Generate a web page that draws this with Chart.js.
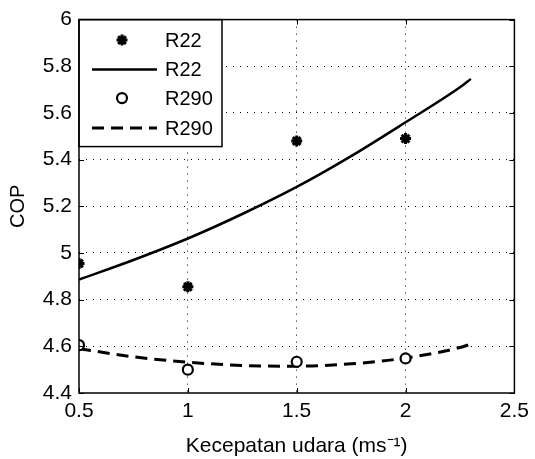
<!DOCTYPE html>
<html>
<head>
<meta charset="utf-8">
<script src="https://cdn.jsdelivr.net/npm/chart.js@4.4.0/dist/chart.umd.min.js"></script>
<style>
  html, body { margin: 0; padding: 0; background: #fff; }
</style>
</head>
<body>
<canvas id="chart" width="535" height="459"></canvas>
<script>
// values
const xMeasured = [0.5, 1, 1.5, 2];
const r22Measured = [4.955, 4.855, 5.48, 5.49];
const r290Measured = [4.605, 4.50, 4.534, 4.548];

const xFit = [0.5, 0.75, 1, 1.25, 1.5, 1.75, 2, 2.25, 2.3];
const r22Fit = [4.886, 4.97, 5.062, 5.167, 5.283, 5.415, 5.56, 5.71, 5.746];
const r290Fit = [4.59, 4.555, 4.532, 4.518, 4.515, 4.525, 4.55, 4.595, 4.61];

const seriesLabels = ['R22', 'R22', 'R290', 'R290'];
const xTitle = 'Kecepatan udara (ms\u207B\u00B9)';
const yTitle = 'COP';

const fontFamily = "'Liberation Sans', Arial, sans-serif";
Chart.defaults.font.family = fontFamily;
Chart.defaults.color = '#000';

const toPoints = (xs, ys) => xs.map((x, i) => ({ x: x, y: ys[i] }));
const plainNumber = (v) => String(parseFloat(Number(v).toFixed(3)));

const hideEdges = (ctx) => {
  const s = ctx.scale;
  if (!ctx.tick) return '#000';
  const v = ctx.tick.value;
  return (Math.abs(v - s.min) < 1e-9 || Math.abs(v - s.max) < 1e-9) ? 'rgba(0,0,0,0)' : '#000';
};

// MATLAB-like box, inner ticks and legend
const matlabBox = {
  id: 'matlabBox',
  afterDatasetsDraw(chart) {
    const { ctx, chartArea: a, scales: { x, y } } = chart;
    ctx.save();
    ctx.strokeStyle = '#000';
    ctx.lineWidth = 1;
    ctx.setLineDash([]);
    ctx.beginPath();
    x.ticks.forEach(t => {
      const px = Math.round(x.getPixelForValue(t.value)) + 0.5;
      ctx.moveTo(px, a.bottom); ctx.lineTo(px, a.bottom - 5);
      ctx.moveTo(px, a.top); ctx.lineTo(px, a.top + 5);
    });
    y.ticks.forEach(t => {
      const py = Math.round(y.getPixelForValue(t.value)) + 0.5;
      ctx.moveTo(a.left, py); ctx.lineTo(a.left + 5, py);
      ctx.moveTo(a.right, py); ctx.lineTo(a.right - 5, py);
    });
    ctx.stroke();

    // legend
    const lx = a.left, ly = a.top, lw = 143, lh = 127;
    ctx.fillStyle = '#fff';
    ctx.fillRect(lx, ly, lw, lh);
    ctx.lineWidth = 1.5;
    ctx.strokeRect(lx, ly, lw, lh);
    const rows = [20.5, 50, 78.5, 108.5];
    ctx.font = '20px ' + fontFamily;
    ctx.textBaseline = 'middle';
    chart.data.datasets.forEach((ds, i) => {
      const ry = ly + rows[i];
      if (ds.showLine) {
        ctx.save();
        ctx.strokeStyle = ds.borderColor;
        ctx.lineWidth = ds.borderWidth;
        ctx.setLineDash(ds.borderDash || []);
        ctx.beginPath();
        ctx.moveTo(lx + 13, ry);
        ctx.lineTo(lx + 78, ry);
        ctx.stroke();
        ctx.restore();
      } else {
        ctx.save();
        ctx.strokeStyle = ds.borderColor;
        ctx.fillStyle = ds.backgroundColor;
        ctx.lineWidth = ds.borderWidth;
        Chart.helpers.drawPoint(ctx, {
          pointStyle: ds.pointStyle, radius: ds.pointRadius,
          rotation: 0, borderWidth: ds.borderWidth
        }, lx + 43, ry);
        ctx.restore();
      }
      ctx.fillStyle = '#000';
      ctx.fillText(ds.label, lx + 86, ry + 1);
    });

    ctx.lineWidth = 1.5;
    ctx.strokeRect(a.left, a.top, a.right - a.left, a.bottom - a.top);
    ctx.restore();
  }
};

new Chart(document.getElementById('chart'), {
  type: 'scatter',
  data: {
    datasets: [
      {
        label: seriesLabels[0],
        data: toPoints(xMeasured, r22Measured),
        pointStyle: 'star',
        pointRadius: 5.5,
        borderWidth: 3,
        borderColor: '#000',
        backgroundColor: '#000',
        showLine: false
      },
      {
        label: seriesLabels[1],
        data: toPoints(xFit, r22Fit),
        showLine: true,
        pointRadius: 0,
        borderWidth: 2.5,
        borderColor: '#000',
        backgroundColor: '#000',
        cubicInterpolationMode: 'monotone'
      },
      {
        label: seriesLabels[2],
        data: toPoints(xMeasured, r290Measured),
        pointStyle: 'circle',
        pointRadius: 5,
        borderWidth: 2.2,
        borderColor: '#000',
        backgroundColor: '#fff',
        showLine: false
      },
      {
        label: seriesLabels[3],
        data: toPoints(xFit, r290Fit),
        showLine: true,
        pointRadius: 0,
        borderWidth: 3,
        borderDash: [12, 7],
        borderColor: '#000',
        backgroundColor: '#000',
        cubicInterpolationMode: 'monotone'
      }
    ]
  },
  options: {
    responsive: false,
    animation: false,
    devicePixelRatio: 1,
    layout: { padding: { left: 0, right: 13, top: 19, bottom: 0 } },
    plugins: {
      legend: { display: false },
      tooltip: { enabled: false }
    },
    scales: {
      x: {
        type: 'linear',
        min: 0.5,
        max: 2.5,
        ticks: { stepSize: 0.5, padding: 6, font: { size: 21 }, color: '#000', maxRotation: 0, callback: plainNumber },
        grid: { color: hideEdges, lineWidth: 1, drawTicks: false },
        border: { display: false, dash: [1, 6] },
        title: { display: true, text: xTitle, font: { size: 21 }, color: '#000', padding: { top: 0, bottom: 0 } },
        afterFit: (s) => { s.height = 66; }
      },
      y: {
        type: 'linear',
        min: 4.4,
        max: 6,
        ticks: { stepSize: 0.2, padding: 7, font: { size: 21 }, color: '#000', callback: plainNumber },
        grid: { color: hideEdges, lineWidth: 1, drawTicks: false },
        border: { display: false, dash: [1, 6] },
        title: { display: true, text: yTitle, font: { size: 20 }, color: '#000', padding: { top: 6, bottom: 0 } },
        afterFit: (s) => { s.width = 79; }
      }
    }
  },
  plugins: [matlabBox]
});
</script>
</body>
</html>
